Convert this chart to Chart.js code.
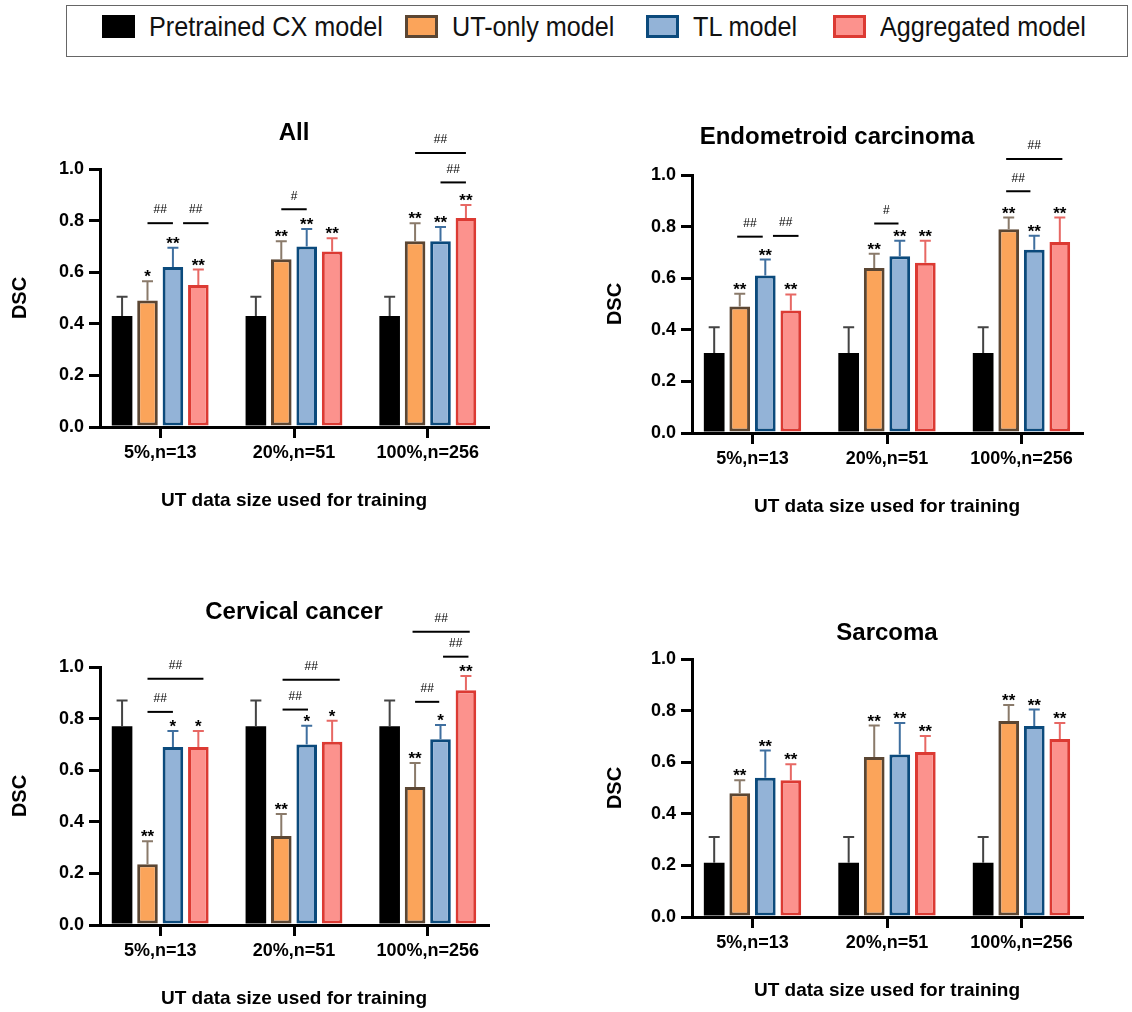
<!DOCTYPE html>
<html>
<head>
<meta charset="utf-8">
<script src="https://cdn.jsdelivr.net/npm/chart.js@4.4.1/dist/chart.umd.min.js"></script>
<style>
  body { margin: 0; background: #fff; width: 1132px; height: 1012px; overflow: hidden; position: relative; font-family: "Liberation Sans", Arial, sans-serif; }
  #legend { position: absolute; left: 66px; top: 5px; width: 1062px; height: 52px; border: 1.5px solid #666; box-sizing: border-box; }
  .sw { position: absolute; top: 9px; width: 33px; height: 23px; box-sizing: border-box; }
  .lt { position: absolute; top: 6px; font-size: 28px; line-height: 30px; color: #111; white-space: nowrap; transform: scaleX(0.9); transform-origin: left center; }
  .panel { position: absolute; }
</style>
</head>
<body>
<div id="legend"></div>
<div class="panel" style="left:0px;top:89px;width:588px;height:438px"><canvas id="cAll"></canvas></div>
<div class="panel" style="left:592px;top:95px;width:496px;height:438px"><canvas id="cEndo"></canvas></div>
<div class="panel" style="left:0px;top:587px;width:588px;height:438px"><canvas id="cCerv"></canvas></div>
<div class="panel" style="left:592px;top:579px;width:496px;height:438px"><canvas id="cSarc"></canvas></div>
<script>
// ---- data ----
const groups = ['5%,n=13', '20%,n=51', '100%,n=256'];
const seriesNames = ['Pretrained CX model', 'UT-only model', 'TL model', 'Aggregated model'];

const fillColors = ['#000000', '#fba45a', '#93b3d7', '#fc928d'];
const borderColors = ['#000000', '#5b4633', '#0b4a7c', '#dc3a33'];
const errColors = ['#444444', '#8a7a6a', '#3f6f9f', '#e76864'];

// All
const allMeans = [[0.43, 0.43, 0.43], [0.49, 0.65, 0.72], [0.62, 0.70, 0.72], [0.55, 0.68, 0.81]];
const allSD = [[0.075, 0.075, 0.075], [0.075, 0.07, 0.07], [0.075, 0.067, 0.055], [0.06, 0.052, 0.05]];
const allStars = [['', '', ''], ['*', '**', '**'], ['**', '**', '**'], ['**', '**', '**']];
// [group, from slot, to slot, level, label]
const allBrackets = [[0, 1, 2, 0.79, '##'], [0, 2.4, 3.4, 0.79, '##'], [1, 1, 2, 0.844, '#'], [2, 2, 3, 0.948, '##'], [2, 1, 3, 1.062, '##']];

// Endometroid carcinoma
const endoMeans = [[0.31, 0.31, 0.31], [0.49, 0.64, 0.79], [0.61, 0.685, 0.71], [0.475, 0.66, 0.74]];
const endoSD = [[0.10, 0.10, 0.10], [0.05, 0.055, 0.045], [0.062, 0.06, 0.055], [0.062, 0.085, 0.095]];
const endoStars = [['', '', ''], ['**', '**', '**'], ['**', '**', '**'], ['**', '**', '**']];
const endoBrackets = [[0, 0.9, 1.9, 0.761, '##'], [0, 2.3, 3.3, 0.764, '##'], [1, 1, 1.95, 0.812, '#'], [2, 0.9, 1.85, 0.937, '##'], [2, 0.9, 3.1, 1.062, '##']];

// Cervical cancer
const cervMeans = [[0.77, 0.77, 0.77], [0.235, 0.345, 0.535], [0.69, 0.70, 0.72], [0.69, 0.71, 0.91]];
const cervSD = [[0.10, 0.10, 0.10], [0.09, 0.085, 0.093], [0.062, 0.072, 0.055], [0.062, 0.082, 0.055]];
const cervStars = [['', '', ''], ['**', '**', '**'], ['*', '*', '*'], ['*', '*', '**']];
const cervBrackets = [[0, 1, 2, 0.826, '##'], [0, 1, 3.2, 0.954, '##'], [1, 1.05, 2.05, 0.835, '##'], [1, 1.05, 3.3, 0.951, '##'], [2, 1, 1.95, 0.865, '##'], [2, 2.1, 3.1, 1.04, '##'], [2, 0.9, 3.15, 1.137, '##']];

// Sarcoma
const sarcMeans = [[0.21, 0.21, 0.21], [0.48, 0.62, 0.76], [0.54, 0.63, 0.74], [0.53, 0.64, 0.69]];
const sarcSD = [[0.10, 0.10, 0.10], [0.05, 0.122, 0.062], [0.105, 0.122, 0.064], [0.062, 0.062, 0.062]];
const sarcStars = [['', '', ''], ['**', '**', '**'], ['**', '**', '**'], ['**', '**', '**']];
const sarcBrackets = [];

const FONT = '"Liberation Sans", Arial, Helvetica, sans-serif';

// ---- legend ----
const legendLeft = [35, 338, 579, 766];
const legend = document.getElementById('legend');
seriesNames.forEach((name, i) => {
  const sw = document.createElement('div');
  sw.className = 'sw';
  sw.style.left = legendLeft[i] + 'px';
  sw.style.background = fillColors[i];
  sw.style.border = '3.5px solid ' + borderColors[i];
  legend.appendChild(sw);
  const t = document.createElement('div');
  t.className = 'lt';
  t.style.left = (legendLeft[i] + 47) + 'px';
  t.textContent = name;
  legend.appendChild(t);
});

// error bars, stars and comparison brackets
function annotate(brackets) {
  return {
    id: 'annotate',
    afterDatasetsDraw(chart) {
      const ctx = chart.ctx;
      const yScale = chart.scales.y;
      const metas = chart.data.datasets.map((d, i) => chart.getDatasetMeta(i));
      ctx.save();
      chart.data.datasets.forEach((ds, i) => {
        metas[i].data.forEach((bar, g) => {
          const top = yScale.getPixelForValue(ds.data[g].y + ds.sd[g]);
          ctx.strokeStyle = errColors[i];
          ctx.lineWidth = 2;
          ctx.beginPath();
          ctx.moveTo(bar.x, bar.y);
          ctx.lineTo(bar.x, top);
          ctx.moveTo(bar.x - 5.5, top);
          ctx.lineTo(bar.x + 5.5, top);
          ctx.stroke();
          if (ds.stars[g]) {
            ctx.fillStyle = '#000';
            ctx.font = 'bold 17px ' + FONT;
            ctx.textAlign = 'center';
            ctx.textBaseline = 'alphabetic';
            ctx.fillText(ds.stars[g], bar.x, top + 1);
          }
        });
      });
      const pitch = metas[1].data[0].x - metas[0].data[0].x;
      brackets.forEach(([g, s0, s1, level, label]) => {
        const x0 = metas[0].data[g].x + s0 * pitch;
        const x1 = metas[0].data[g].x + s1 * pitch;
        const yy = yScale.getPixelForValue(level);
        ctx.strokeStyle = '#000';
        ctx.lineWidth = 2;
        ctx.beginPath();
        ctx.moveTo(x0, yy);
        ctx.lineTo(x1, yy);
        ctx.stroke();
        ctx.fillStyle = '#000';
        ctx.font = '12px ' + FONT;
        ctx.textAlign = 'center';
        ctx.textBaseline = 'middle';
        ctx.fillText(label, (x0 + x1) / 2, yy - 13);
      });
      ctx.restore();
    }
  };
}

function makePanel(p) {
  const datasets = seriesNames.map((name, s) => ({
    label: name,
    data: p.means[s].map((v, g) => ({ x: g, y: v })),
    sd: p.sd[s],
    stars: p.stars[s],
    backgroundColor: fillColors[s],
    borderColor: borderColors[s],
    borderWidth: s === 0 ? 0 : 3,
    borderSkipped: false,
    categoryPercentage: 0.76,
    barPercentage: 0.81,
  }));

  return new Chart(document.getElementById(p.id), {
    type: 'bar',
    data: { datasets },
    options: {
      responsive: true,
      maintainAspectRatio: false,
      animation: false,
      layout: { padding: { left: 0, right: p.padRight, top: 0, bottom: 0 } },
      plugins: {
        legend: { display: false },
        tooltip: { enabled: false },
        title: {
          display: true,
          text: p.title,
          color: '#000',
          fullSize: p.fullTitle,
          font: { family: FONT, size: 24, weight: 'bold', lineHeight: 1.2 },
          padding: { top: p.tTop, bottom: p.tBottom },
        },
      },
      scales: {
        x: {
          type: 'linear',
          min: -0.45,
          max: 2.45,
          offset: false,
          z: 1,
          afterFit: s => { s.height = 100; },
          ticks: {
            stepSize: 1,
            includeBounds: false,
            autoSkip: false,
            maxRotation: 0,
            padding: 4,
            color: '#000',
            font: { family: FONT, size: 18, weight: 'bold' },
            callback: v => groups[Math.round(v)] ?? '',
          },
          grid: { offset: false, drawOnChartArea: false, color: '#000', lineWidth: 3, tickLength: 11 },
          border: { color: '#000', width: 3 },
          title: {
            display: true,
            text: 'UT data size used for training',
            color: '#000',
            font: { family: FONT, size: 19, weight: 'bold', lineHeight: 1.2 },
            padding: { top: 0, bottom: 15 },
          },
        },
        y: {
          min: 0,
          max: 1,
          z: 1,
          afterFit: s => { s.width = 100; },
          ticks: {
            stepSize: 0.2,
            padding: 5,
            color: '#000',
            font: { family: FONT, size: 18, weight: 'bold' },
            callback: v => v.toFixed(1),
          },
          grid: { drawOnChartArea: false, color: '#000', lineWidth: 3, tickLength: 11 },
          border: { color: '#000', width: 3 },
          title: {
            display: true,
            text: 'DSC',
            color: '#000',
            font: { family: FONT, size: 20, weight: 'bold', lineHeight: 1.2 },
            padding: { top: p.dscPad, bottom: 0 },
          },
        },
      },
    },
    plugins: [annotate(p.brackets)],
  });
}

const panels = [
  { id: 'cAll', title: 'All', means: allMeans, sd: allSD, stars: allStars, brackets: allBrackets, padRight: 100, fullTitle: false, tTop: 29.6, tBottom: 21.6, dscPad: 8 },
  { id: 'cEndo', title: 'Endometroid carcinoma', means: endoMeans, sd: endoSD, stars: endoStars, brackets: endoBrackets, padRight: 6, fullTitle: true, tTop: 27.6, tBottom: 23.6, dscPad: 11 },
  { id: 'cCerv', title: 'Cervical cancer', means: cervMeans, sd: cervSD, stars: cervStars, brackets: cervBrackets, padRight: 100, fullTitle: false, tTop: 10.6, tBottom: 40.6, dscPad: 8 },
  { id: 'cSarc', title: 'Sarcoma', means: sarcMeans, sd: sarcSD, stars: sarcStars, brackets: sarcBrackets, padRight: 6, fullTitle: false, tTop: 39.6, tBottom: 11.6, dscPad: 11 },
];

panels.forEach(makePanel);
</script>
</body>
</html>
